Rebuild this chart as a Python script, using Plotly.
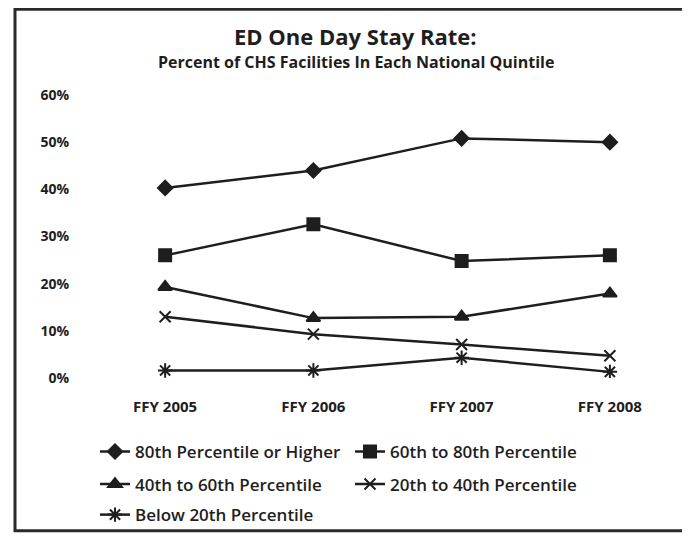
import plotly.graph_objects as go

# ---- data ----
years = ["FFY 2005", "FFY 2006", "FFY 2007", "FFY 2008"]
pct_80_plus = [40.3, 44.0, 50.8, 50.0]
pct_60_80 = [26.0, 32.6, 24.8, 26.0]
pct_40_60 = [19.3, 12.7, 13.0, 17.9]
pct_20_40 = [13.0, 9.3, 7.1, 4.7]
pct_below_20 = [1.6, 1.6, 4.3, 1.3]
y_ticks = [0, 10, 20, 30, 40, 50, 60]
y_tick_labels = ["0%", "10%", "20%", "30%", "40%", "50%", "60%"]

# ---- layout geometry (figure pixels; page body adds an 8px offset) ----
W, H = 682, 531
L, R, T, B = 83, 6, 87, 157
PW, PH = W - L - R, H - T - B


def px2x(px):
    return (px - L) / PW


def px2y(py):
    return (H - B - py) / PH


INK = "#1e1e1e"
FONT = "Open Sans"

series = [
    ("80th Percentile or Higher", pct_80_plus, "diamond", 11, "legend"),
    ("60th to 80th Percentile", pct_60_80, "square", 12, "legend"),
    ("40th to 60th Percentile", pct_40_60, "triangle-up", 12, "legend2"),
    ("20th to 40th Percentile", pct_20_40, "x-thin-open", 11, "legend2"),
    ("Below 20th Percentile", pct_below_20, "asterisk-open", 12, "legend3"),
]

fig = go.Figure()
for name, vals, sym, size, leg in series:
    fig.add_trace(go.Scatter(
        x=years, y=[v / 100 for v in vals], name=name, mode="lines+markers",
        line=dict(color=INK, width=2.5),
        marker=dict(symbol=sym, size=size, color=INK, line=dict(color=INK, width=2)),
        legend=leg,
    ))

leg_common = dict(
    orientation="h", xanchor="left", yanchor="middle",
    font=dict(family=FONT, size=17, color=INK, weight=600),
    bgcolor="rgba(0,0,0,0)", entrywidth=210, itemwidth=30,
)

fig.update_layout(
    width=W, height=H,
    margin=dict(l=L, r=R, t=T, b=B, pad=0),
    paper_bgcolor="white", plot_bgcolor="white",
    font=dict(family=FONT, color=INK),
    showlegend=True,
    legend=dict(x=px2x(87), y=px2y(449), **leg_common),
    legend2=dict(x=px2x(87), y=px2y(482), **leg_common),
    legend3=dict(x=px2x(87), y=px2y(513), **leg_common),
    xaxis=dict(
        range=[-0.5, 3.5],
        showgrid=False, showline=False, zeroline=False, ticks="",
        tickfont=dict(family=FONT, size=15, color=INK, weight="bold"),
        ticklabelstandoff=18,
    ),
    yaxis=dict(
        range=[0, 0.6], tickvals=[v / 100 for v in y_ticks], ticktext=y_tick_labels,
        showgrid=False, showline=False, zeroline=False, ticks="",
        tickfont=dict(family=FONT, size=14, color=INK, weight="bold"),
        ticklabelstandoff=21,
    ),
    shapes=[dict(
        type="rect", xref="paper", yref="paper",
        x0=px2x(7), x1=px2x(720), y0=px2y(529), y1=px2y(0),
        line=dict(color="#2a2a2a", width=3), fillcolor="rgba(0,0,0,0)", layer="above",
    )],
    annotations=[
        dict(text="ED One Day Stay Rate:", xref="paper", yref="paper",
             x=px2x(347), y=px2y(27), xanchor="center", yanchor="middle", showarrow=False,
             font=dict(family=FONT, size=22, color=INK, weight="bold")),
        dict(text="Percent of CHS Facilities In Each National Quintile", xref="paper", yref="paper",
             x=px2x(348), y=px2y(54), xanchor="center", yanchor="middle", showarrow=False,
             font=dict(family=FONT, size=16, color=INK, weight="bold")),
    ],
)

fig.write_html("out.html")
